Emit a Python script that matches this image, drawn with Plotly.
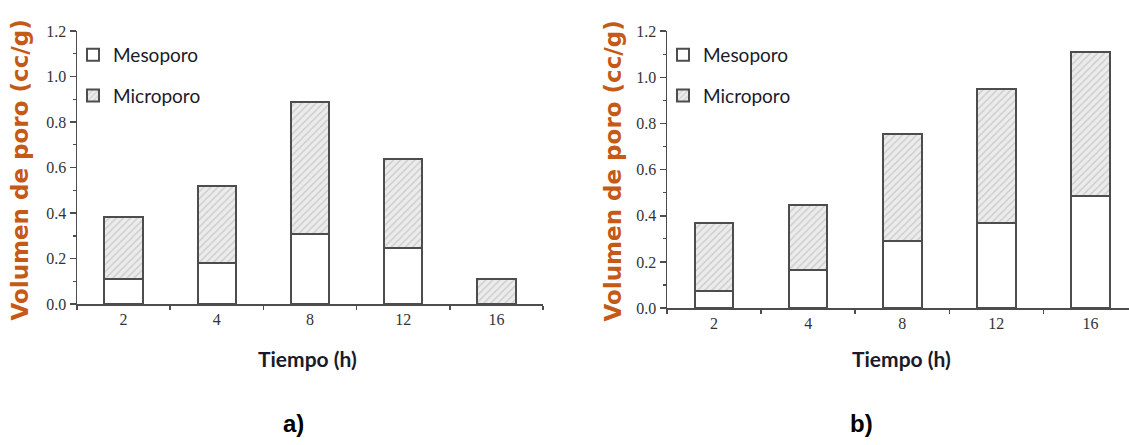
import plotly.graph_objects as go

W, H = 1129, 445

# ---- data ----
tiempo = ["2", "4", "8", "12", "16"]
meso_a = [0.11, 0.18, 0.31, 0.245, 0.0]
micro_a = [0.275, 0.34, 0.58, 0.395, 0.11]
meso_b = [0.075, 0.167, 0.29, 0.37, 0.487]
micro_b = [0.292, 0.279, 0.465, 0.58, 0.621]
y_ticks = [0.0, 0.2, 0.4, 0.6, 0.8, 1.0, 1.2]

def px(x):
    return x / W

def py(y):
    return 1 - y / H

EDGE = "#4d4d4d"
meso_marker = dict(color="white", line=dict(color=EDGE, width=2))
micro_marker = dict(color="#ececec", line=dict(color=EDGE, width=2),
                    pattern=dict(shape="/", fgcolor="#b0b0b0", bgcolor="#ececec",
                                 size=5, solidity=0.3))

fig = go.Figure()
for (meso, micro, xa, ya, lg) in [(meso_a, micro_a, "x", "y", "legend"),
                                  (meso_b, micro_b, "x2", "y2", "legend2")]:
    fig.add_trace(go.Bar(x=tiempo, y=meso, name="Mesoporo", marker=meso_marker,
                         width=0.41, xaxis=xa, yaxis=ya, legend=lg,
                         legendgroup="meso" + lg))
    fig.add_trace(go.Bar(x=tiempo, y=micro, name="Microporo", marker=micro_marker,
                         width=0.41, xaxis=xa, yaxis=ya, legend=lg,
                         legendgroup="micro" + lg))

tickfont = dict(family="Liberation Serif, Times New Roman, serif", size=16, color="#333333")

yax = dict(range=[0, 1.2], tickvals=y_ticks, tickformat=".1f", ticks="outside",
           ticklen=6, tickwidth=1.5, tickcolor=EDGE, showline=True, linecolor=EDGE,
           linewidth=1.5, showgrid=False, zeroline=False, tickfont=tickfont,
           minor=dict(dtick=0.1, ticks="outside", ticklen=3, tickcolor=EDGE, tickwidth=1.2),
           fixedrange=True)
xax = dict(type="category", ticks="outside", tickson="boundaries", ticklen=4,
           tickwidth=1.5, tickcolor=EDGE, showline=True, linecolor=EDGE, linewidth=1.5,
           showgrid=False, zeroline=False, tickfont=tickfont, fixedrange=True)

legend_common = dict(font=dict(family="Lato, Open Sans, sans-serif", size=19, color="#1a1a2a"),
                     bgcolor="rgba(0,0,0,0)", borderwidth=0, tracegroupgap=13,
                     itemwidth=30, xanchor="left", yanchor="top", traceorder="grouped")

title_font = dict(family="DejaVu Sans, Verdana, sans-serif", size=23, color="#c45a16")
xt_font = dict(family="Lato, Open Sans, sans-serif", size=21, color="#1a1a2a")
cap_font = dict(family="Liberation Sans, Arial, sans-serif", size=24, color="#000000")

fig.update_layout(
    width=W, height=H, margin=dict(l=0, r=0, t=0, b=0),
    paper_bgcolor="white", plot_bgcolor="white", barmode="stack",
    showlegend=True,
    xaxis=dict(xax, domain=[px(77), px(543)], range=[-0.5, 4.5], anchor="y"),
    yaxis=dict(yax, domain=[py(308), py(24)], anchor="x"),
    xaxis2=dict(xax, domain=[px(667), 1.0], range=[-0.5, 4.41], anchor="y2"),
    yaxis2=dict(yax, domain=[py(312), py(24)], anchor="x2"),
    legend=dict(legend_common, x=px(73), y=py(29)),
    legend2=dict(legend_common, x=px(663), y=py(29)),
    annotations=[
        dict(text="<b>Volumen de poro (cc/g)</b>", x=px(20), y=py(169), xref="paper", yref="paper",
             textangle=-90, showarrow=False, font=title_font, xanchor="center", yanchor="middle"),
        dict(text="<b>Volumen de poro (cc/g)</b>", x=px(613), y=py(170), xref="paper", yref="paper",
             textangle=-90, showarrow=False, font=title_font, xanchor="center", yanchor="middle"),
        dict(text="<b>Tiempo (h)</b>", x=px(307), y=py(364), xref="paper", yref="paper",
             showarrow=False, font=xt_font, xanchor="center", yanchor="middle"),
        dict(text="<b>Tiempo (h)</b>", x=px(901), y=py(364), xref="paper", yref="paper",
             showarrow=False, font=xt_font, xanchor="center", yanchor="middle"),
        dict(text="<b>a)</b>", x=px(293), y=py(416), xref="paper", yref="paper",
             showarrow=False, font=cap_font, xanchor="center", yanchor="top"),
        dict(text="<b>b)</b>", x=px(861), y=py(416), xref="paper", yref="paper",
             showarrow=False, font=cap_font, xanchor="center", yanchor="top"),
    ],
)

fig.write_html(
    "out.html",
    config={"displayModeBar": False, "staticPlot": True},
    post_script="document.documentElement.style.overflow='hidden';"
                "document.body.style.margin='0';document.body.style.overflow='hidden';",
)
